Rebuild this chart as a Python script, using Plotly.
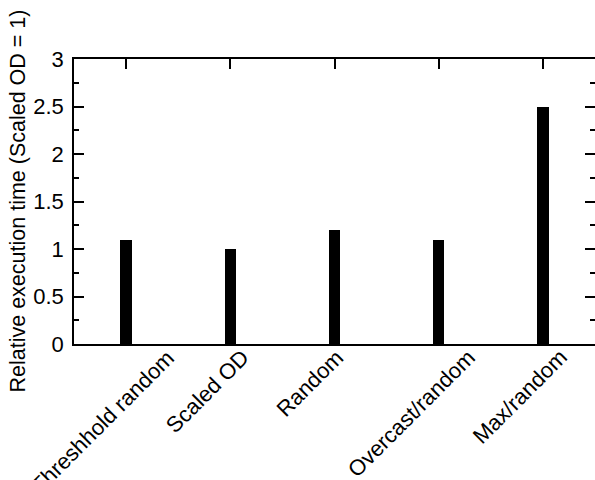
import plotly.graph_objects as go

categories = ["Threshhold random", "Scaled OD", "Random", "Overcast/random", "Max/random"]
positions = [1, 2, 3, 4, 5]
values = [1.1, 1.0, 1.2, 1.1, 2.5]
label_shift = [56, 26, 16, 44, 32]
y_title = "Relative execution time (Scaled OD = 1)"

FONT = "Liberation Sans, Arial, Helvetica, sans-serif"

fig = go.Figure()
fig.add_trace(go.Bar(x=positions, y=values, width=0.11,
                     marker=dict(color="black", line=dict(width=0)),
                     showlegend=False))
# invisible trace for mirrored axes
fig.add_trace(go.Scatter(x=positions, y=values, xaxis="x2", yaxis="y2",
                         mode="markers", marker=dict(opacity=0),
                         showlegend=False, hoverinfo="skip"))

fig.update_layout(
    width=595, height=480,
    margin=dict(l=74, r=0, t=59, b=136),
    paper_bgcolor="white", plot_bgcolor="white",
    font=dict(family=FONT, size=22, color="black"),
    xaxis=dict(range=[0.5, 5.5], showline=True, linecolor="black", linewidth=1.5,
               ticks="", showticklabels=False, showgrid=False, zeroline=False),
    xaxis2=dict(range=[0.5, 5.5], overlaying="x", side="top", showline=True,
                linecolor="black", linewidth=1.5, ticks="inside", ticklen=10,
                tickwidth=1.5, tickcolor="black", tickvals=positions,
                showticklabels=False, showgrid=False, zeroline=False),
    yaxis=dict(range=[0, 3], dtick=0.5, tick0=0, showline=True, linecolor="black",
               linewidth=1.5, ticks="inside", ticklen=10, tickwidth=1.5,
               tickcolor="black", showgrid=False, zeroline=False,
               ticklabelstandoff=4,
               minor=dict(ticks="inside", ticklen=5, dtick=0.25, tickcolor="black",
                          tickwidth=1.5, showgrid=False),
               tickfont=dict(size=22)),
    yaxis2=dict(range=[0, 3], dtick=0.5, tick0=0, overlaying="y", side="right",
                showline=False, ticks="inside", ticklen=10, tickwidth=1.5,
                tickcolor="black", showticklabels=False, showgrid=False,
                zeroline=False,
                minor=dict(ticks="inside", ticklen=5, dtick=0.25, tickcolor="black",
                           tickwidth=1.5, showgrid=False)),
    bargap=0,
)

for pos, name, sh in zip(positions, categories, label_shift):
    fig.add_annotation(x=pos, y=0, xref="x", yref="y", text=name, showarrow=False,
                       textangle=-45, xanchor="right", yanchor="top",
                       xshift=sh, yshift=2, font=dict(size=22, family=FONT))

fig.add_annotation(x=(17 - 74) / 521, y=0.5, xref="paper", yref="paper",
                   text=y_title, showarrow=False, textangle=-90,
                   xanchor="center", yanchor="middle",
                   font=dict(size=21.5, family=FONT))

fig.write_html("out.html")
